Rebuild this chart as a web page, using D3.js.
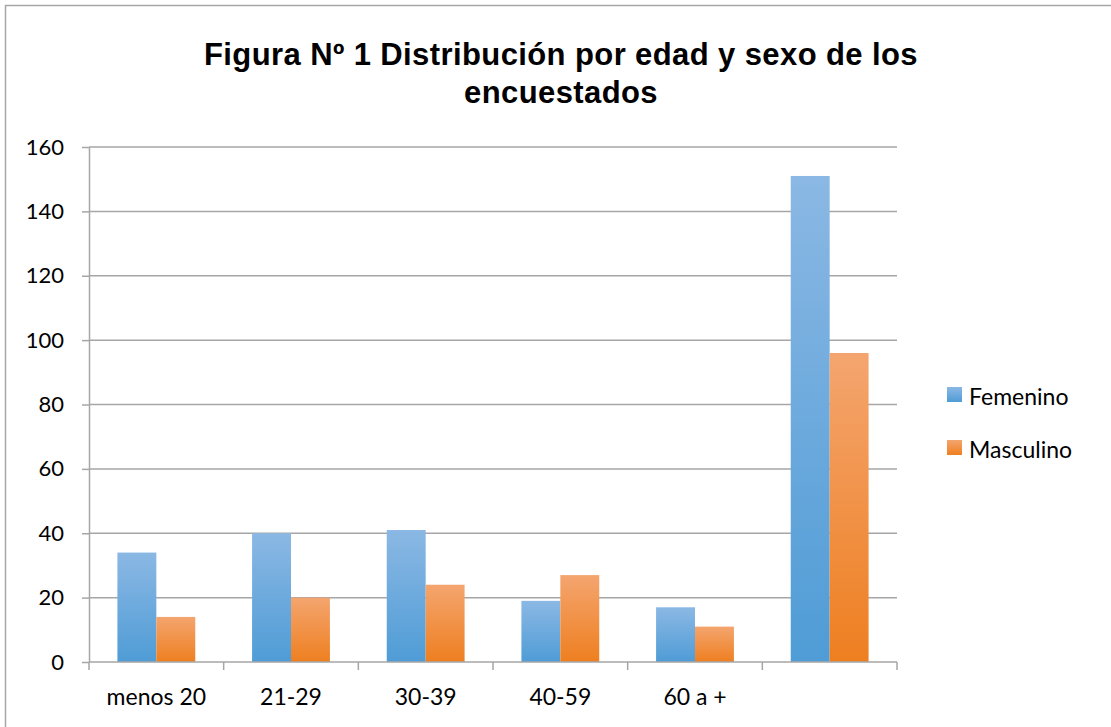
<!DOCTYPE html>
<html>
<head>
<meta charset="utf-8">
<script src="https://cdn.jsdelivr.net/npm/d3@7"></script>
<style>
  body { margin: 0; background: #fff; }
  svg { display: block; }
</style>
</head>
<body>
<div id="chart"></div>
<script>
const categories = ['menos 20', '21-29', '30-39', '40-59', '60 a +', ''];
const femenino = [34, 40, 41, 19, 17, 151];
const masculino = [14, 20, 24, 27, 11, 96];
const seriesNames = ['Femenino', 'Masculino'];
const yTicks = [0, 20, 40, 60, 80, 100, 120, 140, 160];
const titleLines = ['Figura Nº 1 Distribución por edad y sexo de los', 'encuestados'];

const W = 1111, H = 727;
const plot = { left: 89, right: 897, top: 147, bottom: 662 };
const labelFont = 'Lato, "Open Sans", sans-serif';

const svg = d3.select('#chart').append('svg')
  .attr('width', W).attr('height', H);

// gradients
const defs = svg.append('defs');
const grads = [
  { id: 'gF', top: '#8bb8e4', bottom: '#4f9cd6' },
  { id: 'gM', top: '#f4a56f', bottom: '#ee7f20' }
];
grads.forEach(g => {
  const lg = defs.append('linearGradient').attr('id', g.id)
    .attr('x1', 0).attr('y1', 0).attr('x2', 0).attr('y2', 1);
  lg.append('stop').attr('offset', '0%').attr('stop-color', g.top);
  lg.append('stop').attr('offset', '100%').attr('stop-color', g.bottom);
});

// outer frame (only top/left visible in crop)
svg.append('path')
  .attr('d', `M5.5,${H} V5.5 H${W}`)
  .attr('fill', 'none').attr('stroke', '#a6a6a6').attr('stroke-width', 1.5);

// title
svg.append('g').selectAll('text').data(titleLines).enter().append('text')
  .attr('x', 561).attr('y', (d, i) => 65 + i * 38)
  .attr('text-anchor', 'middle')
  .style('font-family', '"Liberation Sans", Arial, sans-serif')
  .style('font-weight', 'bold').style('font-size', '31px')
  .style('letter-spacing', '0.4px')
  .text(d => d);

const x = d3.scaleBand().domain(d3.range(categories.length))
  .range([plot.left, plot.right]).paddingInner(0).paddingOuter(0);
const y = d3.scaleLinear().domain([0, 160]).range([plot.bottom, plot.top]);
const inner = d3.scaleBand().domain([0, 1])
  .range([0, x.bandwidth()]).paddingInner(0).paddingOuter(0.73);

// gridlines
svg.append('g').selectAll('line').data(yTicks.filter(t => t > 0)).enter().append('line')
  .attr('x1', plot.left).attr('x2', plot.right)
  .attr('y1', d => y(d)).attr('y2', d => y(d))
  .attr('stroke', '#a6a6a6').attr('stroke-width', 1.5);

// bars
const data = categories.map((c, i) => [femenino[i], masculino[i]]);
const groups = svg.append('g').selectAll('g').data(data).enter().append('g')
  .attr('transform', (d, i) => `translate(${x(i)},0)`);
groups.selectAll('rect').data(d => d).enter().append('rect')
  .attr('x', (d, j) => inner(j))
  .attr('width', inner.bandwidth())
  .attr('y', d => y(d))
  .attr('height', d => y(0) - y(d))
  .attr('fill', (d, j) => `url(#${grads[j].id})`);

// y axis
const yAxis = svg.append('g').attr('transform', `translate(${plot.left},0)`)
  .call(d3.axisLeft(y).tickValues(yTicks).tickSize(7).tickPadding(18).tickSizeOuter(0));
yAxis.select('.domain').attr('stroke', '#a6a6a6').attr('stroke-width', 1.5);
yAxis.selectAll('.tick line').attr('stroke', '#a6a6a6').attr('stroke-width', 1.5);
yAxis.selectAll('.tick text')
  .style('font-family', labelFont)
  .style('font-size', '22px').attr('fill', '#000');

// x axis
const xb = svg.append('g').attr('transform', `translate(0,${plot.bottom})`);
xb.append('line').attr('x1', plot.left).attr('x2', plot.right)
  .attr('stroke', '#a6a6a6').attr('stroke-width', 1.5);
const bounds = d3.range(categories.length + 1).map(i => plot.left + i * x.bandwidth());
xb.selectAll('.xt').data(bounds).enter().append('line')
  .attr('x1', d => d).attr('x2', d => d).attr('y1', 0).attr('y2', 8)
  .attr('stroke', '#a6a6a6').attr('stroke-width', 1.5);
xb.selectAll('text').data(categories).enter().append('text')
  .attr('x', (d, i) => x(i) + x.bandwidth() / 2).attr('y', 43)
  .attr('text-anchor', 'middle')
  .style('font-family', labelFont)
  .style('font-size', '23px')
  .text(d => d);

// legend
const legend = svg.append('g').selectAll('g').data(seriesNames).enter().append('g')
  .attr('transform', (d, i) => `translate(947,${387 + i * 53})`);
legend.append('rect').attr('width', 15).attr('height', 15)
  .attr('fill', (d, i) => `url(#${grads[i].id})`);
legend.append('text').attr('x', 22).attr('y', 18)
  .style('font-family', labelFont)
  .style('font-size', '23px')
  .text(d => d);
</script>
</body>
</html>
